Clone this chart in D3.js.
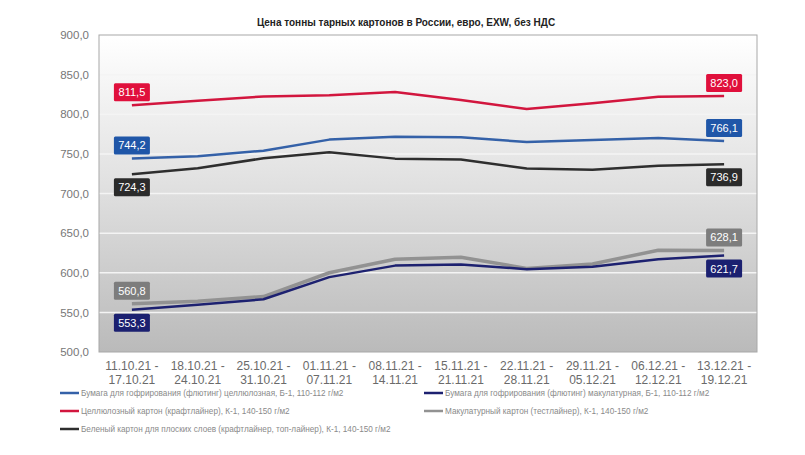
<!DOCTYPE html>
<html>
<head>
<meta charset="utf-8">
<script src="https://cdn.jsdelivr.net/npm/d3@7/dist/d3.min.js"></script>
<style>
  body { margin: 0; background: #fff; }
  svg { display: block; font-family: "Liberation Sans", Arial, sans-serif; }
</style>
</head>
<body>
<div id="container"></div>
<script>
const title = "Цена тонны тарных картонов в России, евро, EXW, без НДС";

const weeks = [
  ["11.10.21 -", "17.10.21"], ["18.10.21 -", "24.10.21"], ["25.10.21 -", "31.10.21"],
  ["01.11.21 -", "07.11.21"], ["08.11.21 -", "14.11.21"], ["15.11.21 -", "21.11.21"],
  ["22.11.21 -", "28.11.21"], ["29.11.21 -", "05.12.21"], ["06.12.21 -", "12.12.21"],
  ["13.12.21 -", "19.12.21"]
];

const yTicks = [500, 550, 600, 650, 700, 750, 800, 850, 900];

// series values
const fluteCell  = [744.2, 747, 754, 768, 771.5, 771, 765, 767.5, 770, 766.1];
const kraftliner = [811.5, 817, 822.5, 824, 828, 818, 806.5, 814, 822, 823.0];
const whiteTop   = [724.3, 732, 744.5, 752, 744, 743, 731.5, 730, 735, 736.9];
const fluteWaste = [553.3, 559.5, 566.5, 594.5, 609, 610.5, 604.5, 607.5, 617, 621.7];
const testliner  = [560.8, 564, 570, 600, 617, 619.5, 605.5, 611, 628.5, 628.1];

const seriesNames = [
  "Бумага для гофрирования (флютинг) целлюлозная, Б-1, 110-112 г/м2",
  "Целлюлозный картон (крафтлайнер), К-1, 140-150 г/м2",
  "Беленый картон для плоских слоев (крафтлайнер, топ-лайнер), К-1, 140-150 г/м2",
  "Бумага для гофрирования (флютинг) макулатурная, Б-1, 110-112 г/м2",
  "Макулатурный картон (тестлайнер), К-1, 140-150 г/м2"
];

// look of each series: line colour, label box colour, width, label side at start / end
const series = [
  { name: seriesNames[4], values: testliner,  line: "#929292", box: "#7d7d7d", w: 3.5, first: "above", last: "above", lx: 424, ly: 411 },
  { name: seriesNames[3], values: fluteWaste, line: "#1d2170", box: "#1b2070", w: 2.5, first: "below", last: "below", lx: 424, ly: 393 },
  { name: seriesNames[2], values: whiteTop,   line: "#2e2e2e", box: "#2b2b2b", w: 2.5, first: "below", last: "below", lx: 60,  ly: 429 },
  { name: seriesNames[0], values: fluteCell,  line: "#3461a8", box: "#1f56a8", w: 2.5, first: "above", last: "above", lx: 60,  ly: 393 },
  { name: seriesNames[1], values: kraftliner, line: "#d2163e", box: "#e0103c", w: 2.5, first: "above", last: "above", lx: 60,  ly: 411 }
];

const width = 805, height = 455;
const margin = { top: 35, right: 48, bottom: 103, left: 99 };

const svg = d3.select("#container").append("svg")
  .attr("width", width)
  .attr("height", height);

const x = d3.scaleBand()
  .domain(d3.range(weeks.length))
  .range([margin.left, width - margin.right]);

const y = d3.scaleLinear()
  .domain([500, 900])
  .range([height - margin.bottom, margin.top]);

const fmt = v => d3.format(".1f")(v).replace(".", ",");
const cx = i => x(i) + x.bandwidth() / 2;

// plot background
const grad = svg.append("defs").append("linearGradient")
  .attr("id", "bg").attr("x1", 0).attr("y1", 0).attr("x2", 0).attr("y2", 1);
grad.append("stop").attr("offset", "0%").attr("stop-color", "#ffffff");
grad.append("stop").attr("offset", "45%").attr("stop-color", "#e2e2e2");
grad.append("stop").attr("offset", "100%").attr("stop-color", "#bababa");

svg.append("rect")
  .attr("x", margin.left).attr("y", margin.top)
  .attr("width", width - margin.left - margin.right)
  .attr("height", height - margin.top - margin.bottom)
  .attr("fill", "url(#bg)");

// gridlines
svg.append("g")
  .selectAll("line")
  .data(yTicks.slice(1, -1))
  .join("line")
    .attr("x1", margin.left).attr("x2", width - margin.right)
    .attr("y1", d => y(d)).attr("y2", d => y(d))
    .attr("stroke", "#f4f4f4")
    .attr("stroke-width", 1.5);

// frame
svg.append("rect")
  .attr("x", margin.left).attr("y", margin.top)
  .attr("width", width - margin.left - margin.right)
  .attr("height", height - margin.top - margin.bottom)
  .attr("fill", "none")
  .attr("stroke", "#a8a8a8");

// y axis
const yAxis = svg.append("g")
  .attr("transform", `translate(${margin.left},0)`)
  .call(d3.axisLeft(y).tickValues(yTicks).tickFormat(fmt).tickSize(0).tickPadding(10));
yAxis.select(".domain").remove();
yAxis.selectAll("text")
  .attr("fill", "#777")
  .attr("font-size", 11.5);

// x axis, two line labels
const xAxis = svg.append("g")
  .attr("transform", `translate(0,${height - margin.bottom})`)
  .call(d3.axisBottom(x).tickSize(0).tickFormat(""));
xAxis.select(".domain").remove();
xAxis.selectAll(".tick text").remove();
xAxis.selectAll(".tick")
  .append("text")
    .attr("fill", "#6a6a6a")
    .attr("font-size", 12)
    .attr("text-anchor", "middle")
    .selectAll("tspan")
    .data(i => weeks[i])
    .join("tspan")
      .attr("x", 0)
      .attr("y", (d, j) => 18 + j * 13.5)
      .text(d => d);

// lines
const line = d3.line()
  .x((d, i) => cx(i))
  .y(d => y(d));

svg.append("g")
  .selectAll("path")
  .data(series)
  .join("path")
    .attr("d", d => line(d.values))
    .attr("fill", "none")
    .attr("stroke", d => d.line)
    .attr("stroke-width", d => d.w)
    .attr("stroke-linejoin", "round");

// value labels at first and last point
const labels = [];
series.forEach(s => {
  labels.push({ s, i: 0, side: s.first });
  labels.push({ s, i: s.values.length - 1, side: s.last });
});

const boxW = 36, boxH = 18, gap = 4;
const lab = svg.append("g")
  .selectAll("g")
  .data(labels)
  .join("g")
    .attr("transform", d => {
      const py = y(d.s.values[d.i]);
      const top = d.side === "above" ? py - gap - boxH : py + gap;
      return `translate(${cx(d.i) - boxW / 2},${top})`;
    });

lab.append("rect")
  .attr("width", boxW).attr("height", boxH)
  .attr("rx", 1.5)
  .attr("fill", d => d.s.box);

lab.append("text")
  .attr("x", boxW / 2).attr("y", boxH / 2 + 4)
  .attr("text-anchor", "middle")
  .attr("fill", "#fff")
  .attr("font-size", 11)
  .text(d => fmt(d.s.values[d.i]));

// legend
const leg = svg.append("g")
  .selectAll("g")
  .data(series)
  .join("g")
    .attr("transform", d => `translate(${d.lx},${d.ly})`);

leg.append("line")
  .attr("x1", 0).attr("x2", 19)
  .attr("stroke", d => d.line)
  .attr("stroke-width", 2.5);

leg.append("text")
  .attr("x", 21).attr("y", 2.8)
  .attr("fill", "#8a8a8a")
  .attr("font-size", 8.2)
  .text(d => d.name);

// title
svg.append("text")
  .attr("x", 406).attr("y", 26)
  .attr("text-anchor", "middle")
  .attr("font-weight", "bold")
  .attr("font-size", 10)
  .attr("fill", "#222")
  .text(title);
</script>
</body>
</html>
